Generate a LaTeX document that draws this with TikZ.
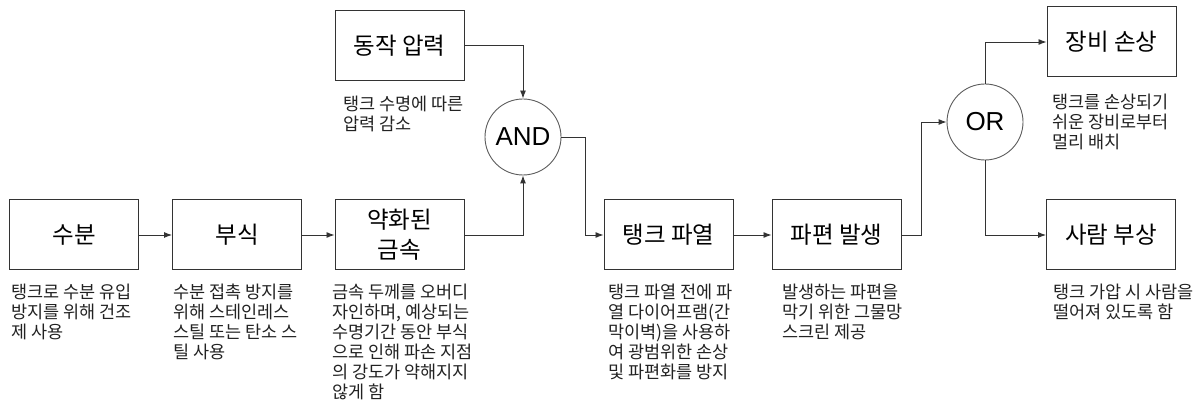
\documentclass[tikz,border=0pt]{standalone}
\usepackage{fontspec}
\setmainfont{Noto Sans CJK KR}
\newfontfamily\latinsans{Liberation Sans}
\usetikzlibrary{arrows.meta}
\definecolor{linec}{HTML}{333333}
\definecolor{txtc}{HTML}{222222}
\tikzset{
  box/.style={draw=linec, line width=1pt, minimum width=129pt, minimum height=70pt, inner sep=0pt,
    align=center, font=\fontsize{23.5}{30}\selectfont, text=black},
  gate/.style={circle, draw=linec!80, line width=0.9pt, minimum size=76pt, inner sep=0pt,
    font=\latinsans\fontsize{26}{26}\selectfont},
  desc/.style={anchor=north west, inner sep=0pt, align=left, text=txtc,
    font=\fontsize{17.5}{20}\selectfont},
  conn/.style={draw=linec, line width=0.9pt, -{Latex[length=8pt,width=6pt]}}
}
\begin{document}
\begin{tikzpicture}[x=1pt,y=-1pt]
\useasboundingbox (0,0) rectangle (1204,403);
% boxes
\node[box] (moist) at (74,235) {수분};
\node[box] (corr) at (237,235) {부식};
\node[box] (weak) at (399.5,235) {약화된\\금속};
\node[box] (press) at (399.5,45.5) {동작 압력};
\node[gate] (and) at (523,137) {AND};
\node[box] (rupt) at (668.5,235) {탱크 파열};
\node[box] (frag) at (836.5,235) {파편 발생};
\node[gate] (or) at (985,122) {OR};
\node[box] (equip) at (1111.5,42) {장비 손상};
\node[box] (inj) at (1111,235) {사람 부상};
% connectors
\draw[conn] (moist) -- (corr);
\draw[conn] (corr) -- (weak);
\draw[conn] (press.east) -| (and.north);
\draw[conn] (weak.east) -| (and.south);
\coordinate (a1) at (585,137);
\draw[conn] (and.east) -- (a1) |- (rupt.west);
\draw[conn] (rupt) -- (frag);
\coordinate (f1) at (921,235);
\draw[conn] (frag.east) -- (f1) |- (or.west);
\draw[conn] (or.north) |- (equip.west);
\draw[conn] (or.south) |- (inj.west);
% descriptions
\node[desc] (d1) at (11,284) {탱크로 수분 유입\\방지를 위해 건조\\제 사용};
\node[desc] (d2) at (173,284) {수분 접촉 방지를\\위해 스테인레스\\스틸 또는 탄소 스\\틸 사용};
\node[desc] (d3) at (332,284) {금속 두께를 오버디\\자인하며, 예상되는\\수명기간 동안 부식\\으로 인해 파손 지점\\의 강도가 약해지지\\않게 함};
\node[desc] (d4) at (343,96) {탱크 수명에 따른\\압력 감소};
\node[desc] (d5) at (608,284) {탱크 파열 전에 파\\열 다이어프램(간\\막이벽)을 사용하\\여 광범위한 손상\\및 파편화를 방지};
\node[desc] (d6) at (782,284) {발생하는 파편을\\막기 위한 그물망\\스크린 제공};
\node[desc] (d7) at (1052,94) {탱크를 손상되기\\쉬운 장비로부터\\멀리 배치};
\node[desc] (d8) at (1053,284) {탱크 가압 시 사람을\\떨어져 있도록 함};
\end{tikzpicture}
\end{document}
